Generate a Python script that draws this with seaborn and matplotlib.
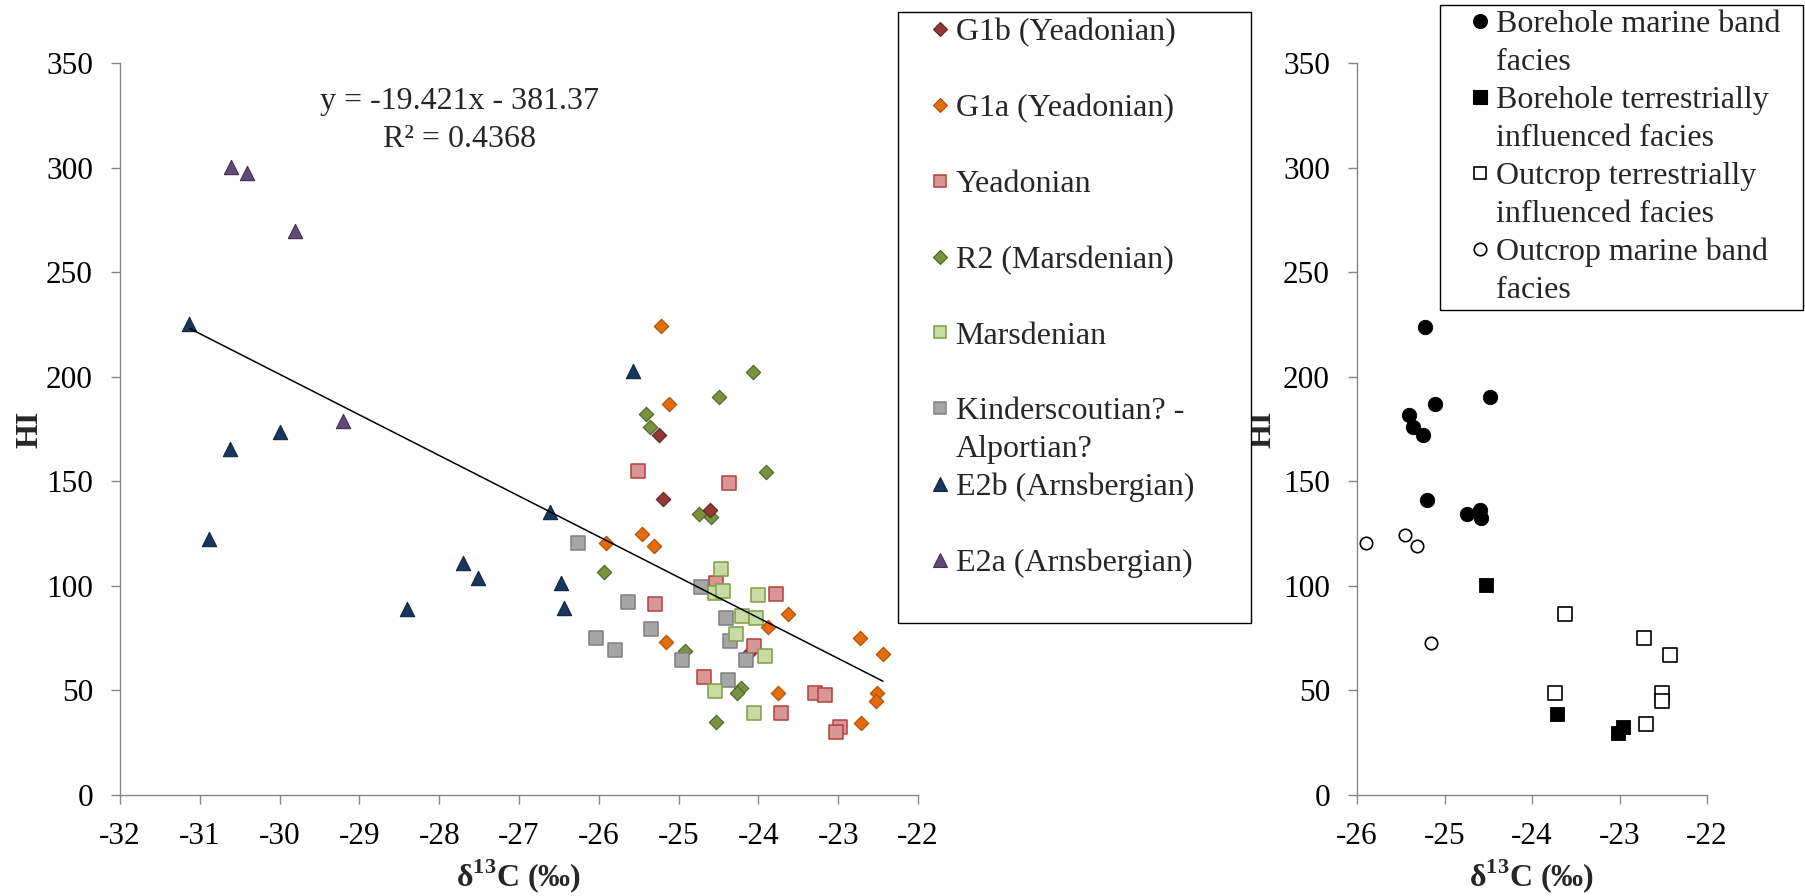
import numpy as np
import pandas as pd
import matplotlib
matplotlib.use("Agg")
import matplotlib.pyplot as plt
from matplotlib.lines import Line2D
import seaborn as sns

# ---------------- left panel: HI vs d13C by stratigraphic unit ----------------
g1b_d13c = [-25.25, -25.20, -24.61, -24.12]
g1b_hi = [172.3, 141.6, 136.5, 68.0]

g1a_d13c = [-25.22, -25.12, -25.91, -25.46, -25.31, -25.16, -23.63, -23.88,
            -23.75, -22.73, -22.44, -22.52, -22.53, -22.72]
g1a_hi = [224.2, 187.0, 120.7, 125.0, 119.3, 73.0, 86.8, 80.3,
          49.0, 75.3, 67.5, 48.9, 44.9, 34.6]

yead_d13c = [-25.51, -24.37, -25.29, -24.53, -23.78, -24.06, -24.68, -23.29,
             -23.16, -23.72, -22.98, -23.03]
yead_hi = [154.9, 149.1, 91.3, 101.5, 96.1, 71.5, 56.4, 48.7,
           48.0, 39.1, 32.7, 30.2]

r2_d13c = [-25.41, -25.36, -24.50, -24.07, -23.91, -24.75, -24.59, -25.93,
           -24.92, -24.22, -24.27, -24.53]
r2_hi = [182.2, 176.1, 190.5, 202.3, 154.4, 134.6, 133.0, 106.5,
         69.0, 51.4, 48.7, 34.8]

mars_d13c = [-24.47, -24.55, -24.44, -24.00, -24.21, -24.03, -24.28, -23.92,
             -24.54, -24.06]
mars_hi = [108.1, 96.4, 97.6, 95.9, 85.4, 84.9, 77.1, 66.6, 49.7, 39.3]

kind_d13c = [-26.26, -25.63, -25.35, -26.03, -25.80, -24.96, -24.72, -24.40,
             -24.36, -24.16, -24.38]
kind_hi = [120.4, 92.3, 79.4, 75.1, 69.5, 64.5, 99.5, 84.6, 73.9, 64.5, 55.1]

e2b_d13c = [-31.13, -25.57, -30.00, -30.62, -30.89, -26.61, -27.70, -27.51,
            -28.40, -26.47, -26.43]
e2b_hi = [225.4, 202.8, 173.6, 165.3, 122.4, 135.5, 110.9, 104.0,
          88.8, 101.6, 89.6]

e2a_d13c = [-30.61, -30.41, -29.81, -29.21]
e2a_hi = [300.6, 297.4, 269.8, 178.8]

# linear trend over all samples
trend_slope = -19.421
trend_intercept = -381.37
trend_r2 = 0.4368

# ---------------- right panel: HI vs d13C by facies ----------------
bh_marine_d13c = [-25.22, -25.11, -24.48, -25.41, -25.36, -25.25, -25.20,
                  -24.74, -24.59, -24.58]
bh_marine_hi = [224.0, 186.8, 190.4, 181.6, 176.1, 172.0, 141.3, 134.2,
                136.1, 132.3]

bh_terr_d13c = [-24.53, -23.71, -23.02, -22.96]
bh_terr_hi = [100.5, 38.9, 29.6, 32.3]

oc_terr_d13c = [-23.62, -22.72, -22.42, -23.74, -22.51, -22.52, -22.70]
oc_terr_hi = [86.8, 75.0, 67.1, 48.8, 48.8, 44.9, 34.2]

oc_marine_d13c = [-25.90, -25.45, -25.31, -25.15]
oc_marine_hi = [120.5, 124.6, 118.9, 72.6]

x_ticks_left = list(range(-32, -21))
x_ticks_right = list(range(-26, -21))
y_ticks = list(range(0, 351, 50))

# ---------------- styling ----------------
sns.set_theme(style="ticks")
plt.rcParams.update({
    "font.family": ["Liberation Serif", "DejaVu Serif"],
    "mathtext.fontset": "custom",
    "mathtext.rm": "Liberation Serif",
    "mathtext.bf": "Liberation Serif:bold",
    "axes.unicode_minus": False,
})

AXIS_GREY = "#868686"
TICK_FS = 22.5
TEXT_FS = 23

left_units = {
    "G1b (Yeadonian)": (g1b_d13c, g1b_hi),
    "G1a (Yeadonian)": (g1a_d13c, g1a_hi),
    "Yeadonian": (yead_d13c, yead_hi),
    "R2 (Marsdenian)": (r2_d13c, r2_hi),
    "Marsdenian": (mars_d13c, mars_hi),
    "Kinderscoutian? -\nAlportian?": (kind_d13c, kind_hi),
    "E2b (Arnsbergian)": (e2b_d13c, e2b_hi),
    "E2a (Arnsbergian)": (e2a_d13c, e2a_hi),
}
left_style = {
    "G1b (Yeadonian)": dict(marker="D", face="#953735", edge="#632523", s=54, lw=0.8, ms=7.0),
    "G1a (Yeadonian)": dict(marker="D", face="#E46C0A", edge="#A94F06", s=54, lw=0.8, ms=7.0),
    "Yeadonian": dict(marker="s", face="#D99694", edge="#B0403D", s=98, lw=1.1, ms=8.6),
    "R2 (Marsdenian)": dict(marker="D", face="#77933C", edge="#4F6228", s=54, lw=0.8, ms=7.0),
    "Marsdenian": dict(marker="s", face="#C9DBA4", edge="#7F9D45", s=98, lw=1.1, ms=8.6),
    "Kinderscoutian? -\nAlportian?": dict(marker="s", face="#A6A6A6", edge="#7F7F7F", s=98, lw=1.1, ms=8.6),
    "E2b (Arnsbergian)": dict(marker="^", face="#17375E", edge="#0F243E", s=106, lw=0.8, ms=9.5),
    "E2a (Arnsbergian)": dict(marker="^", face="#604A7B", edge="#3F3151", s=106, lw=0.8, ms=9.5),
}
left_draw_order = ["R2 (Marsdenian)", "G1b (Yeadonian)", "Yeadonian",
                   "Kinderscoutian? -\nAlportian?", "Marsdenian",
                   "G1a (Yeadonian)", "E2b (Arnsbergian)", "E2a (Arnsbergian)"]

right_units = {
    "Borehole marine band\nfacies": (bh_marine_d13c, bh_marine_hi),
    "Borehole terrestrially\ninfluenced facies": (bh_terr_d13c, bh_terr_hi),
    "Outcrop terrestrially\ninfluenced facies": (oc_terr_d13c, oc_terr_hi),
    "Outcrop marine band\nfacies": (oc_marine_d13c, oc_marine_hi),
}
right_style = {
    "Borehole marine band\nfacies": dict(marker="o", face="black", edge="black", s=108, lw=0.6, ms=10.0),
    "Borehole terrestrially\ninfluenced facies": dict(marker="s", face="black", edge="black", s=108, lw=0.6, ms=9.6),
    "Outcrop terrestrially\ninfluenced facies": dict(marker="s", face="white", edge="black", s=88, lw=1.2, ms=9.0),
    "Outcrop marine band\nfacies": dict(marker="o", face="white", edge="black", s=80, lw=1.2, ms=9.0),
}


def frame(units):
    parts = [pd.DataFrame({"d13c": x, "hi": y, "group": name})
             for name, (x, y) in units.items()]
    return pd.concat(parts, ignore_index=True)


left_df = frame(left_units)
right_df = frame(right_units)

W, H = 1805, 896
fig = plt.figure(figsize=(W / 100, H / 100), dpi=100)
fig.patch.set_facecolor("white")

ax_l = fig.add_axes([120 / W, 1 - 795 / H, 798 / W, 731.7 / H])
ax_r = fig.add_axes([1357 / W, 1 - 795 / H, 350 / W, 731.7 / H])


def style_axes(ax, xlim, xticks, ylabel_x):
    ax.set_xlim(*xlim)
    ax.set_ylim(0, 350)
    ax.set_xticks(xticks)
    ax.set_yticks(y_ticks)
    sns.despine(ax=ax)
    for side in ("left", "bottom"):
        ax.spines[side].set_color(AXIS_GREY)
        ax.spines[side].set_linewidth(1.0)
    ax.tick_params(axis="both", direction="out", length=6.5, width=1.0,
                   color=AXIS_GREY, labelsize=TICK_FS, pad=13,
                   labelcolor="black")
    ax.set_xlabel("δ$^{\\mathbf{13}}$C (‰)", fontsize=TEXT_FS, fontweight="bold")
    ax.set_ylabel("HI", fontsize=TEXT_FS, fontweight="bold")
    ax.xaxis.label.set_va("baseline")
    ax.xaxis.set_label_coords(0.5, -0.124)
    ax.yaxis.set_label_coords(ylabel_x, 0.5)
    ax.set_facecolor("white")
    ax.grid(False)


# left panel scatter
for z, name in enumerate(left_draw_order):
    st = left_style[name]
    sns.scatterplot(data=left_df[left_df["group"] == name], x="d13c", y="hi",
                    marker=st["marker"], s=st["s"], color=st["face"],
                    edgecolor=st["edge"], linewidth=st["lw"], legend=False,
                    ax=ax_l, zorder=2 + z * 0.01)

trend_x = np.array([left_df["d13c"].min(), left_df["d13c"].max()])
trend_y = trend_slope * trend_x + trend_intercept
sns.lineplot(x=trend_x, y=trend_y, color="black", linewidth=1.1, ax=ax_l,
             legend=False, zorder=3)

eq_text = f"y = {trend_slope}x - {abs(trend_intercept)}"
ax_l.text(-27.75, 331.5, eq_text, ha="center", va="center", fontsize=TEXT_FS)
ax_l.text(-27.75, 313.5, f"R² = {trend_r2}", ha="center", va="center",
          fontsize=TEXT_FS)

style_axes(ax_l, (-32, -22), x_ticks_left, -0.0952)

# right panel scatter
for name, st in right_style.items():
    sns.scatterplot(data=right_df[right_df["group"] == name], x="d13c", y="hi",
                    marker=st["marker"], s=st["s"], color=st["face"],
                    edgecolor=st["edge"], linewidth=st["lw"], legend=False,
                    ax=ax_r, zorder=2)

style_axes(ax_r, (-26, -22), x_ticks_right, -0.226)


# legends: every entry takes two text rows, continuation lines sit in the second
def legend_rows(styles):
    handles, labels = [], []
    for name, st in styles.items():
        lines = name.split("\n")
        mark = Line2D([], [], linestyle="none", marker=st["marker"],
                      markersize=st["ms"], markerfacecolor=st["face"],
                      markeredgecolor=st["edge"],
                      markeredgewidth=max(st["lw"], 0.8))
        handles.append(mark)
        labels.append(lines[0])
        extra = lines[1:] + [" "] * max(0, 1 - len(lines[1:]))
        for txt in extra:
            handles.append(Line2D([], [], linestyle="none", marker=""))
            labels.append(txt)
    return handles, labels


def add_legend(styles, left, right, top, bottom, pad, spacing):
    handles, labels = legend_rows(styles)
    leg = fig.legend(handles, labels, loc="upper left",
                     bbox_to_anchor=(left / W, 1 - bottom / H,
                                     (right - left) / W, (bottom - top) / H),
                     bbox_transform=fig.transFigure, mode="expand",
                     borderaxespad=0, borderpad=pad, labelspacing=spacing,
                     handlelength=2.2, handletextpad=-0.6, fontsize=TEXT_FS,
                     frameon=True, fancybox=False, framealpha=1,
                     edgecolor="black")
    leg.get_frame().set_linewidth(1.0)
    return leg


add_legend(left_style, 898, 1251, 11.5, 616, 0.2, 0.268)
add_legend(right_style, 1440, 1803, 5, 306, 0.145, 0.27)

fig.savefig("out.png", dpi=100, facecolor="white")
